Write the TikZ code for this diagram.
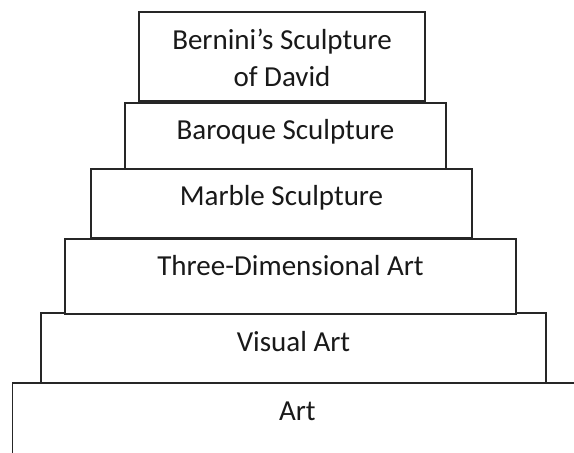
\documentclass[tikz,border=0pt]{standalone}
\usepackage{fontspec}
\setmainfont{Carlito}
\begin{document}
\begin{tikzpicture}[x=1bp,y=-1bp,
  tier/.style={draw=black!85, line width=1.2bp, fill=white, inner sep=0pt, rectangle},
  lbl/.style={anchor=base, inner sep=0pt, text=black!90, font=\fontsize{29bp}{37.4bp}\selectfont, align=center}]
\useasboundingbox (0,0) rectangle (574,453);
\clip (0,0) rectangle (574,453);
% tiers (bottom to top)
\node[tier, minimum width=569.3bp, minimum height=97bp] (b6) at (297.35,431.5) {};
\node[tier, minimum width=505bp, minimum height=70bp] (b5) at (293.5,348) {};
\node[tier, minimum width=451bp, minimum height=75bp] (b4) at (290.5,276.5) {};
\node[tier, minimum width=381bp, minimum height=69bp] (b3) at (281.5,203.5) {};
\node[tier, minimum width=321bp, minimum height=66bp] (b2) at (285.5,136) {};
\node[tier, minimum width=286bp, minimum height=89bp] (b1) at (282,56.5) {};
% labels
\node[lbl] (t1) at (282,86.7) {Bernini’s Sculpture\\of David};
\node[lbl] (t2) at (285.5,140) {Baroque Sculpture};
\node[lbl] (t3) at (281.5,206) {Marble Sculpture};
\node[lbl] (t4) at (290.5,276) {Three-Dimensional Art};
\node[lbl] (t5) at (293.5,351) {Visual Art};
\node[lbl] (t6) at (297.35,420) {Art};
\end{tikzpicture}
\end{document}
